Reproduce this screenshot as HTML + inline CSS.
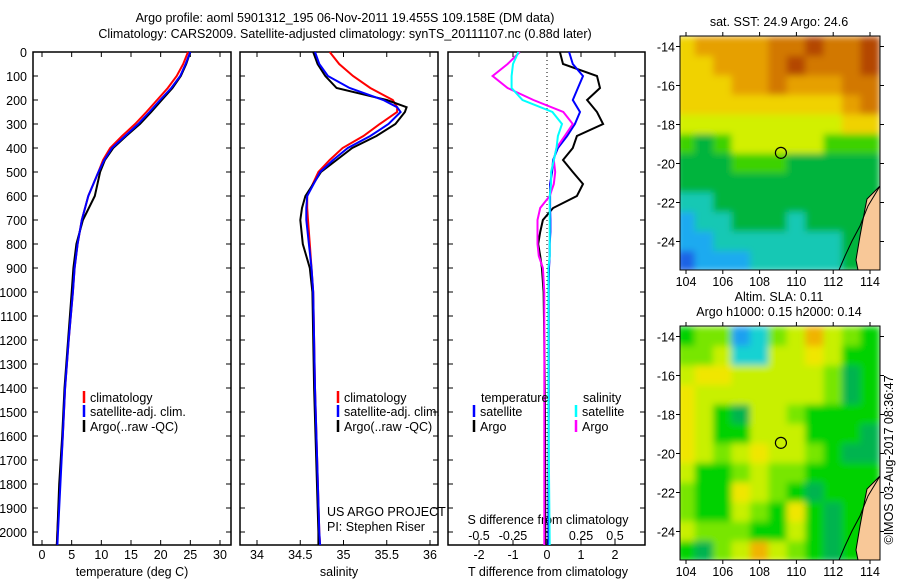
<!DOCTYPE html>
<html><head><meta charset="utf-8"><style>
body{margin:0;background:#fff;}
svg{display:block;font-family:"Liberation Sans",sans-serif;}
text{font-size:12.5px;fill:#000;}
</style></head><body>
<svg id="c" width="900" height="580">
<defs><filter id="blur" x="0" y="0" width="1" height="1"><feGaussianBlur stdDeviation="3.5" edgeMode="duplicate"/></filter></defs>
</svg>
<script>
// ---- Data ----
const tDepths=[0,50,100,150,200,250,300,350,400,450,500,600,700,800,900,1000,1200,1400,1600,1800,2000,2054];
const tClim=[24.6,23.8,22.7,21.2,19.4,17.6,15.7,13.5,11.5,10.3,9.5,7.8,6.7,6.0,5.5,5.2,4.5,3.9,3.5,3.0,2.6,2.5];
const tSat=[25.0,24.2,23.3,21.8,19.9,18.1,16.2,14.0,11.8,10.5,9.5,7.8,6.7,6.0,5.5,5.2,4.5,3.9,3.5,3.1,2.7,2.6];
const tArgo=[25.0,24.3,23.4,22.0,20.2,18.4,16.5,14.2,12.0,10.6,9.8,8.9,6.9,5.8,5.3,5.0,4.4,3.8,3.4,2.9,2.6,2.5];
const sDepths=[0,50,100,150,200,230,250,300,350,400,450,500,600,650,700,800,900,1000,1400,2000,2054];
const sClim=[34.84,34.95,35.11,35.31,35.57,35.62,35.62,35.42,35.23,34.99,34.84,34.71,34.58,34.58,34.59,34.61,34.63,34.65,34.67,34.72,34.73];
const sSat=[34.67,34.72,34.82,35.07,35.46,35.62,35.66,35.52,35.31,35.05,34.88,34.73,34.58,34.57,34.57,34.6,34.63,34.65,34.67,34.72,34.73];
const sArgo=[34.65,34.70,34.79,34.92,35.50,35.73,35.71,35.60,35.38,35.10,34.92,34.74,34.56,34.52,34.50,34.53,34.61,34.64,34.66,34.71,34.71];
const dDepths=[0,50,100,150,200,250,300,350,400,450,500,550,600,650,700,750,800,850,900,1000,1200,1500,2054];
const dTSat=[0.65,0.76,1.06,0.91,0.76,0.97,0.82,0.59,0.32,0.18,0.15,0.09,0.09,0.09,0.1,0.1,0.08,0.08,0.06,0.05,0.05,0.05,0.04];
const dTArgo=[0.38,0.47,1.47,1.56,1.18,1.47,1.65,0.88,0.76,0.47,0.76,1.06,0.88,0.18,-0.12,-0.2,-0.26,-0.2,-0.15,-0.1,-0.08,-0.06,-0.05];
const dSSat=[-0.21,-0.25,-0.26,-0.26,-0.18,0.04,0.11,0.08,0.07,0.05,0.03,0.03,0.02,0.02,0.02,0.02,0.02,0.02,0.01,0.01,0.01,0.01,0.02];
const dSArgo=[-0.2,-0.29,-0.4,-0.29,-0.1,0.12,0.19,0.13,0.07,0.05,0.06,0.05,0.02,-0.05,-0.07,-0.07,-0.07,-0.06,-0.03,-0.02,-0.02,-0.02,-0.02];
const depthTicks=[0,100,200,300,400,500,600,700,800,900,1000,1100,1200,1300,1400,1500,1600,1700,1800,1900,2000];
const tTicks=[0,5,10,15,20,25,30];
const sTicks=[34,34.5,35,35.5,36];
const sTickLabels=["34","34.5","35","35.5","36"];
const dtTicks=[-2,-1,0,1,2];
const dsTicks=[-0.5,-0.25,0,0.25,0.5];
const dsTickLabels=["-0.5","-0.25","0","0.25","0.5"];
const lonTicks=[104,106,108,110,112,114];
const latTicks=[-14,-16,-18,-20,-22,-24];
const sstGrid=[
[6,7,7,7,7,8,8,9,8,8,9],
[6,6,7,7,7,8,9,8,8,8,9],
[6,6,6,7,7,8,7,7,7,8,8],
[6,6,6,6,6,6,6,6,6,7,8],
[5,5,5,5,5,5,5,5,5,6,6],
[4,3,4,5,5,5,5,5,4,4,4],
[3,3,3,4,4,4,3,3,3,3,3],
[3,3,3,3,3,3,3,3,3,3,3],
[2,2,3,3,3,3,3,3,3,3,3],
[1,2,2,3,3,3,2,3,3,3,3],
[1,1,2,2,2,2,2,2,2,3,3],
[0,1,1,1,2,2,2,2,2,3,3]];
const slaGrid=[
[4,5,5,1,2,5,6,8,6,5,4],
[5,5,6,2,2,6,6,7,6,4,4],
[6,7,7,6,6,6,6,6,5,3,4],
[7,6,6,6,6,6,6,6,5,3,4],
[7,6,4,3,6,6,5,4,4,4,4],
[7,6,4,4,6,6,6,4,4,4,3],
[7,6,5,6,7,6,6,5,4,3,3],
[6,4,4,5,6,5,5,4,4,4,4],
[5,4,4,7,6,5,4,3,4,4,4],
[5,4,4,6,5,4,7,4,3,4,4],
[6,5,5,5,4,4,6,4,3,4,4],
[4,3,5,6,8,6,5,4,3,4,4]];
const argoLon=109.158, argoLat=-19.455;

// ---- Helpers ----
const NS="http://www.w3.org/2000/svg";
const svg=document.getElementById('c');
function el(tag,attrs,parent){const e=document.createElementNS(NS,tag);for(const k in attrs)e.setAttribute(k,attrs[k]);(parent||svg).appendChild(e);return e;}
function txt(x,y,s,anchor,extra){const t=el('text',Object.assign({x:x,y:y,'text-anchor':anchor||'start'},extra||{}));t.textContent=s;return t;}
const yD=d=>52+d*0.24;
const xT=v=>42+v*5.933;
const xS=v=>257+(v-34)*86.5;
const xDT=v=>547+v*34;
const xDS=v=>547+v*136;

let t=txt(345,22,"Argo profile: aoml 5901312_195 06-Nov-2011 19.455S 109.158E (DM data)","middle",{'font-size':'13.5px'});

t=txt(345,38,"Climatology: CARS2009. Satellite-adjusted climatology: synTS_20111107.nc (0.88d later)","middle",{'font-size':'13.5px'});


function panel(x0,x1,name){
  const g=el('g',{});
  
  
  el('rect',{x:x0,y:52,width:x1-x0,height:493,fill:'none',stroke:'#000','stroke-width':1.5},g);
  depthTicks.forEach(d=>{el('line',{x1:x0,x2:x0+5,y1:yD(d),y2:yD(d),stroke:'#000'},g);el('line',{x1:x1-5,x2:x1,y1:yD(d),y2:yD(d),stroke:'#000'},g);});
  return g;
}
function xticks(g,ticks,fx,labels,y){
  ticks.forEach((v,i)=>{const x=fx(v);el('line',{x1:x,x2:x,y1:545,y2:540,stroke:'#000'},g);el('line',{x1:x,x2:x,y1:52,y2:57,stroke:'#000'},g);
    const l=txt(x,y,labels?labels[i]:String(v),'middle',{},g);g.appendChild(l);});
}
function line(g,depths,vals,fx,color,name){
  const pts=depths.map((d,i)=>fx(vals[i]).toFixed(1)+','+yD(d).toFixed(1)).join(' ');
  const p=el('polyline',{points:pts,fill:'none',stroke:color,'stroke-width':2},g);
  
  
}
function legend(g,x,y,color,label){
  el('line',{x1:x,x2:x,y1:y-11,y2:y+1,stroke:color,'stroke-width':2.5},g);
  g.appendChild(txt(x+6,y,label));
}

const p1=panel(33,231,'temperature-panel');
depthTicks.forEach(d=>{const l=txt(27,yD(d)+5,String(d),'end');p1.appendChild(l);});
xticks(p1,tTicks,xT,null,559);
p1.appendChild(txt(132,576,"temperature (deg C)","middle"));
line(p1,tDepths,tClim,xT,'#f00','temp-climatology-line');
line(p1,tDepths,tArgo,xT,'#000','temp-argo-line');
line(p1,tDepths,tSat,xT,'#00f','temp-satellite-line');
legend(p1,84,402,'#f00','climatology');
legend(p1,84,416,'#00f','satellite-adj. clim.');
legend(p1,84,431,'#000','Argo(..raw -QC)');

const p2=panel(240,438,'salinity-panel');
xticks(p2,sTicks,xS,sTickLabels,559);
p2.appendChild(txt(339,576,"salinity","middle"));
line(p2,sDepths,sClim,xS,'#f00','sal-climatology-line');
line(p2,sDepths,sArgo,xS,'#000','sal-argo-line');
line(p2,sDepths,sSat,xS,'#00f','sal-satellite-line');
legend(p2,338,402,'#f00','climatology');
legend(p2,338,416,'#00f','satellite-adj. clim.');
legend(p2,338,431,'#000','Argo(..raw -QC)');
p2.appendChild(txt(327,516,"US ARGO PROJECT"));
p2.appendChild(txt(327,531,"PI: Stephen Riser"));

const p3=panel(448,645,'difference-panel');
el('line',{x1:547,x2:547,y1:52,y2:545,stroke:'#000','stroke-dasharray':'1,3'},p3);
xticks(p3,dtTicks,xDT,null,559);
dsTicks.forEach((v,i)=>{p3.appendChild(txt(xDS(v),540,dsTickLabels[i],'middle'));});
p3.appendChild(txt(548,524,"S difference from climatology","middle"));
p3.appendChild(txt(548,576,"T difference from climatology","middle"));
line(p3,dDepths,dTArgo,xDT,'#000','tdiff-argo-line');
line(p3,dDepths,dTSat,xDT,'#00f','tdiff-satellite-line');
line(p3,dDepths,dSArgo,xDS,'#f0f','sdiff-argo-line');
line(p3,dDepths,dSSat,xDS,'#0ff','sdiff-satellite-line');
p3.appendChild(txt(481,402,"temperature"));
p3.appendChild(txt(583,402,"salinity"));
legend(p3,474,416,'#00f','satellite');
legend(p3,474,431,'#000','Argo');
legend(p3,576,416,'#0ff','satellite');
legend(p3,576,431,'#f0f','Argo');

const sstColors=['#1e64e6','#1eaaf0','#14c8b4','#00b43c','#3cd200','#d2f000','#f0d200','#e6a000','#d27800','#b44600'];
const slaColors=['#0050c8','#1ea0f0','#14d2d2','#00b450','#00d200','#78e600','#c8f000','#f0e600','#f0b400'];
function map(y0,grid,colors,name,titleLines){
  const g=el('g',{});
  
  
  const xL=lon=>686+(lon-104)*18.4;
  const yL=lat=>y0+10.5+(-14-lat)*19.5;
  const cl=el('clipPath',{id:name+'-clip'},g);
  el('rect',{x:680,y:y0,width:200,height:234},cl);
  const outer=el('g',{'clip-path':'url(#'+name+'-clip)'},g);
  const cg=el('g',{filter:'url(#blur)'},outer);
  grid.forEach((row,r)=>row.forEach((v,c)=>{
    const cell=el('rect',{x:xL(104+c)-9.7,y:yL(-14-r)-10,width:19.8,height:20.5,fill:colors[v]},cg);
    
    
  }));
  const land=[[880,y0+150],[873,y0+157],[867,y0+163],[865,y0+173],[860,y0+200],[856,y0+224],[858,y0+234],[880,y0+234]];
  const lp=el('polygon',{points:land.map(p=>p.join(',')).join(' '),fill:'#f8c898',stroke:'#000','stroke-width':1},outer);
  
  
  el('polyline',{points:[[880,y0+150],[868,y0+170],[860,y0+190],[852,y0+205],[845,y0+220],[839,y0+234]].map(p=>p.join(',')).join(' '),fill:'none',stroke:'#000','stroke-width':1},outer);
  el('rect',{x:680,y:y0,width:200,height:234,fill:'none',stroke:'#000','stroke-width':1},g);
  lonTicks.forEach(l=>{const x=xL(l);el('line',{x1:x,x2:x,y1:y0-4,y2:y0,stroke:'#000'},g);el('line',{x1:x,x2:x,y1:y0+234,y2:y0+238,stroke:'#000'},g);g.appendChild(txt(x,y0+250,String(l),'middle'));});
  latTicks.forEach(l=>{const y=yL(l);el('line',{x1:676,x2:680,y1:y,y2:y,stroke:'#000'},g);el('line',{x1:880,x2:884,y1:y,y2:y,stroke:'#000'},g);g.appendChild(txt(675,y+5,String(l),'end'));});
  const circ=el('circle',{cx:xL(argoLon),cy:yL(argoLat),r:5.5,fill:'none',stroke:'#000','stroke-width':1.2},g);
  
  
  titleLines.forEach((s,i)=>g.appendChild(txt(779,y0-10-(titleLines.length-1-i)*15,s,'middle')));
}
map(36,sstGrid,sstColors,'sst-map',["sat. SST: 24.9 Argo: 24.6"]);
map(326,slaGrid,slaColors,'sla-map',["Altim. SLA: 0.11","Argo h1000: 0.15 h2000: 0.14"]);
t=txt(0,0,"©IMOS 03-Aug-2017 08:36:47","middle",{transform:'translate(893,460) rotate(-90)'});

</script>
</body></html>
